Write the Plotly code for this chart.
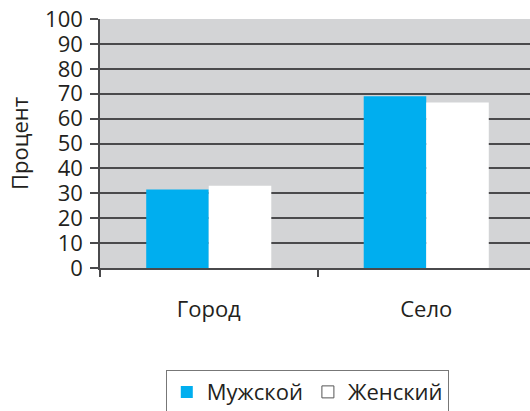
import plotly.graph_objects as go

categories = ["Город", "Село"]
male = [31.5, 69]
female = [33, 66.5]
series_names = ["Мужской", "Женский"]
y_ticks = [0, 10, 20, 30, 40, 50, 60, 70, 80, 90, 100]

FONT = "Open Sans"
TXT = "#231f20"
GRID = "#4a4a4c"
BLUE = "#00aeef"

fig = go.Figure()
fig.add_trace(go.Bar(x=categories, y=male, name=series_names[0], marker=dict(color=BLUE, line=dict(width=0)), showlegend=False))
fig.add_trace(go.Bar(x=categories, y=female, name=series_names[1], marker=dict(color="#ffffff", line=dict(width=0)), showlegend=False))
# legend entries
fig.add_trace(go.Scatter(x=[None], y=[None], mode="markers", name=series_names[0],
                         marker=dict(symbol="square", size=12, color=BLUE, line=dict(width=0))))
fig.add_trace(go.Scatter(x=[None], y=[None], mode="markers", name=series_names[1],
                         marker=dict(symbol="square", size=12, color="#ffffff", line=dict(width=1, color="#555555"))))

fig.update_layout(
    template="none",
    width=530, height=411,
    margin=dict(l=100, r=0, t=19, b=143, autoexpand=False),
    paper_bgcolor="white", plot_bgcolor="#d3d4d6",
    font=dict(family=FONT, size=22, color=TXT),
    barmode="group", bargap=0.425, bargroupgap=0,
    showlegend=True,
    legend=dict(orientation="h", x=0.153, xanchor="left", y=-0.41, yanchor="top",
                bordercolor="#777777", borderwidth=1, bgcolor="white",
                font=dict(family=FONT, size=22, color=TXT), itemwidth=30),
    xaxis=dict(type="category", range=[-0.5, 1.477], showgrid=False, automargin=False,
               showline=True, linecolor=GRID, linewidth=1.5,
               ticks="outside", tickson="boundaries", ticklen=7, tickcolor=GRID, tickwidth=1.5,
               ticklabelstandoff=21, tickfont=dict(family=FONT, size=22, color=TXT)),
    yaxis=dict(range=[0, 100], tickvals=y_ticks, showgrid=True, gridcolor=GRID, gridwidth=1.7,
               showline=True, linecolor=GRID, linewidth=1.5, zeroline=False, automargin=False,
               ticks="outside", ticklen=8, tickcolor=GRID, tickwidth=1.5,
               ticklabelstandoff=3,
               tickfont=dict(family=FONT, size=22, color=TXT),
               title=dict(text="Процент", standoff=10, font=dict(family=FONT, size=22, color=TXT))),
)
fig.write_html("out.html", config={"displayModeBar": False},
               post_script="document.body.style.margin='0';document.body.style.overflow='hidden';")
